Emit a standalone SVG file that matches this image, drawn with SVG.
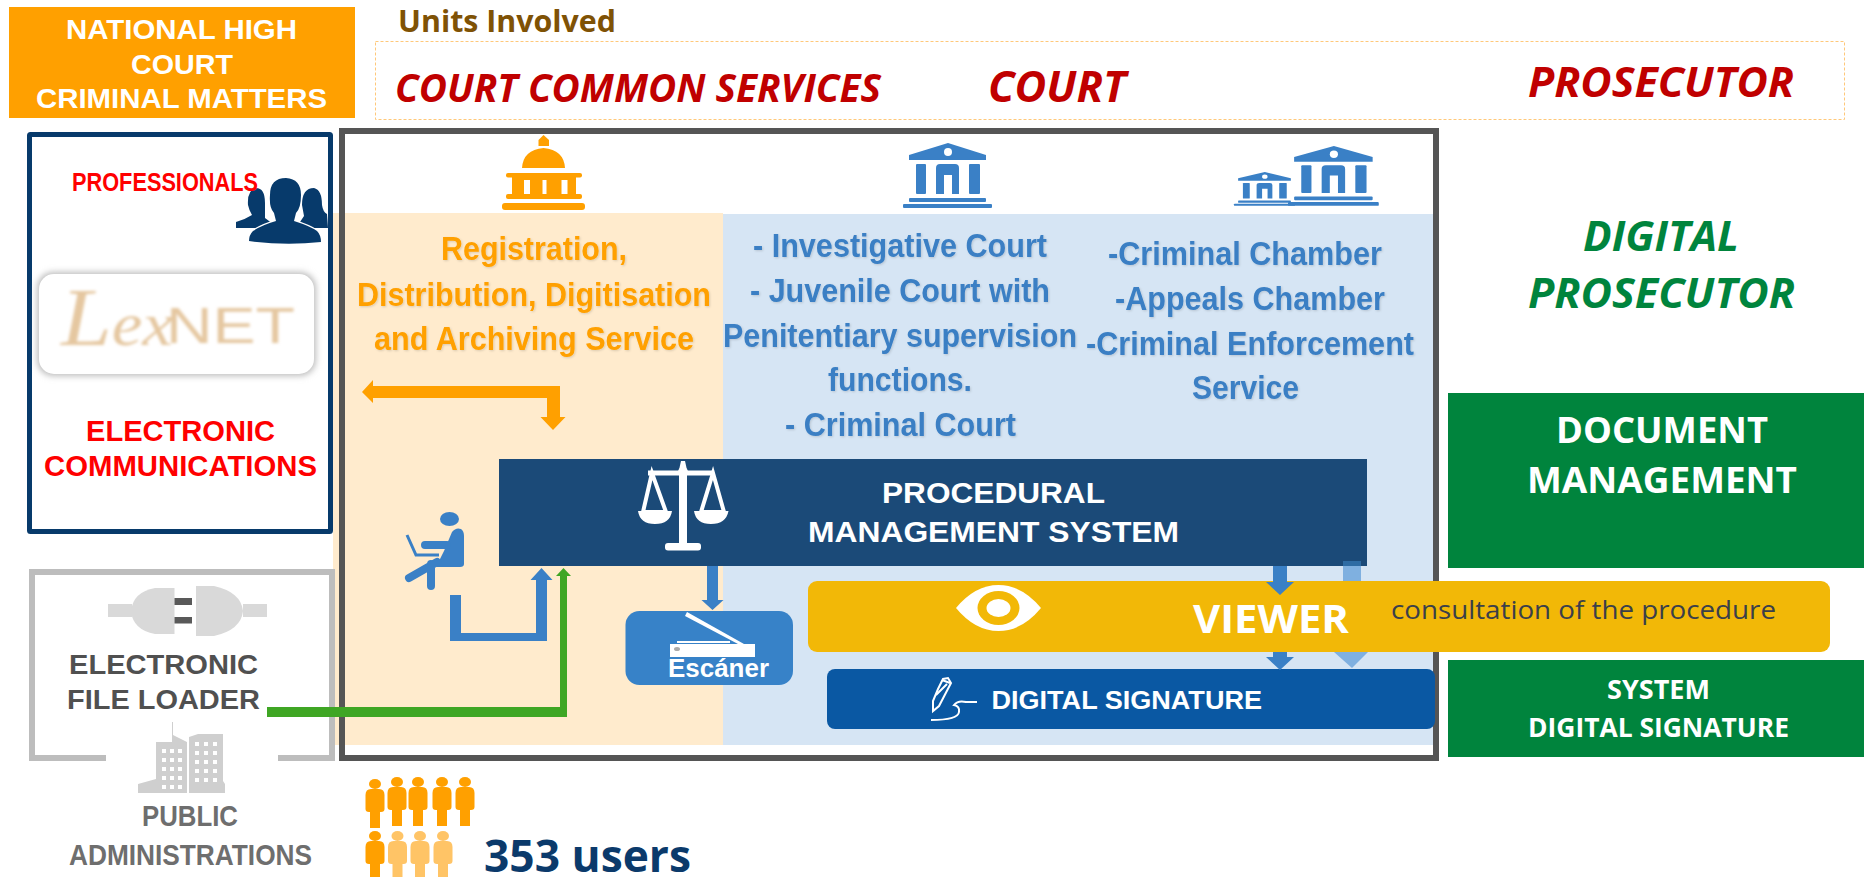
<svg xmlns="http://www.w3.org/2000/svg" xmlns:xlink="http://www.w3.org/1999/xlink" width="1864" height="877" viewBox="0 0 1864 877">
<style>
text{white-space:pre}
.ls{font-family:"Liberation Sans",Arial,sans-serif;font-weight:700}
.os{font-family:"Open Sans","Noto Sans",sans-serif;font-weight:700}
.it{font-style:italic}
.w{fill:#fff}
.red{fill:#C00000}
.pr{fill:#FF0000}
.bl{fill:#3A7FC4;filter:url(#soft)}
.or{fill:#FFA000;filter:url(#soft)}
.gr{fill:#00843D}
.ic{fill:#3A80C6}
</style>
<defs>
<filter id="soft" x="-5%" y="-20%" width="110%" height="140%"><feDropShadow dx="1" dy="1" stdDeviation="0.8" flood-color="#000" flood-opacity="0.14"/></filter>
<filter id="blur" x="-10%" y="-20%" width="120%" height="140%"><feGaussianBlur stdDeviation="1.6"/></filter>
<filter id="blur2" x="-10%" y="-20%" width="120%" height="140%"><feGaussianBlur stdDeviation="3"/></filter>
<g id="court">
<path d="M45 0L83 12V17H6V12Z"/>
<circle cx="45" cy="9" r="4" fill="#fff"/>
<rect x="13" y="21" width="10" height="30" rx="1"/>
<rect x="66" y="21" width="11" height="30" rx="1"/>
<path d="M33 51V25Q33 21 37 21H52Q56 21 56 25V51H49V32H41V51Z"/>
<rect x="6" y="55" width="77" height="4" rx="1"/>
<rect x="0" y="61" width="89" height="4" rx="1"/>
</g>
<g id="fig">
<ellipse cx="0" cy="5" rx="6" ry="5"/>
<path d="M-9.500 16Q-9.500 10 -4 10H4Q9.500 10 9.500 16V30Q9.500 33 6 33H5V49H-5V33H-6Q-9.500 33 -9.500 30Z"/>
</g>
</defs>

<g id="high-court">
<rect x="9" y="7" width="346" height="111" fill="#FFA000"/>
<text class="ls w" x="66" y="39" font-size="28" textLength="231" lengthAdjust="spacingAndGlyphs">NATIONAL HIGH</text>
<text class="ls w" x="131" y="74" font-size="28" textLength="102" lengthAdjust="spacingAndGlyphs">COURT</text>
<text class="ls w" x="36" y="108" font-size="28" textLength="291" lengthAdjust="spacingAndGlyphs">CRIMINAL MATTERS</text>
</g>

<g id="units">
<text class="os" x="398" y="32" font-size="31" fill="#7F5205" textLength="218" lengthAdjust="spacingAndGlyphs">Units Involved</text>
<rect x="375.500" y="41.500" width="1469" height="78" fill="#fff" stroke="#FFC87A" stroke-width="1" stroke-dasharray="3 2"/>
<text class="os it red" x="395" y="102" font-size="40" textLength="486" lengthAdjust="spacingAndGlyphs">COURT COMMON SERVICES</text>
<text class="os it red" x="988" y="102" font-size="43" textLength="138" lengthAdjust="spacingAndGlyphs">COURT</text>
<text class="os it red" x="1528" y="97" font-size="42" textLength="266" lengthAdjust="spacingAndGlyphs">PROSECUTOR</text>
</g>

<g id="panels">
<rect x="333" y="213" width="390" height="532" fill="#FFEBCD"/>
<rect x="723" y="214" width="710" height="531" fill="#D6E5F4"/>
<rect x="342" y="131" width="1094" height="627" fill="none" stroke="#555" stroke-width="6"/>
</g>

<g id="professionals">
<rect x="29.500" y="134.500" width="301" height="397" fill="#fff" stroke="#073A6B" stroke-width="5" rx="1"/>
<g id="people-icon" fill="#073A6B">
<path d="M248 205Q247 190 256 188Q265 188 265 203V218L273 224L262 228H236V222Q244 220 252 215Q249 210 248 205Z"/>
<path d="M302 205Q302 188 314 188Q322 190 322 205Q323 212 327 214L328 228H296L304 216Z"/>
<path d="M270 195Q270 178 286 178Q301 179 301 195Q301 208 296 213L294 221Q310 226 317 231Q321 235 321 242Q285 246 249 241Q249 235 253 231Q262 225 276 221L274 213Q269 208 270 195Z" stroke="#fff" stroke-width="2.500" paint-order="stroke"/>
</g>
<text class="ls pr" x="72" y="191" font-size="26" textLength="186" lengthAdjust="spacingAndGlyphs">PROFESSIONALS</text>
<rect x="37" y="272" width="279" height="104" rx="16" fill="#bdbdbd" filter="url(#blur2)"/>
<rect x="39" y="274" width="275" height="100" rx="15" fill="#fff"/>
<g filter="url(#blur)" fill="#E5C7A0">
<text x="61" y="345" font-family="Liberation Serif,serif" font-style="italic" font-size="62" textLength="112" lengthAdjust="spacingAndGlyphs"><tspan font-size="82">L</tspan>ex</text>
<text class="ls" x="166" y="343" font-size="50" style="font-weight:400" textLength="129" lengthAdjust="spacingAndGlyphs">NET</text>
</g>
<text class="ls pr" x="86" y="441" font-size="29" textLength="189" lengthAdjust="spacingAndGlyphs">ELECTRONIC</text>
<text class="ls pr" x="44" y="476" font-size="29" textLength="273" lengthAdjust="spacingAndGlyphs">COMMUNICATIONS</text>
</g>

<g id="loader">
<path d="M106 758H32V572H332V758H278" fill="none" stroke="#BDBDBD" stroke-width="6"/>
<g id="plug-icon">
<rect x="108" y="604" width="24" height="13" fill="#D9D9D9"/>
<path d="M174.500 588H155Q133 592 131 611Q133 630 155 634H174.500Z" fill="#D9D9D9"/>
<rect x="174.500" y="598" width="17.500" height="7" fill="#595959"/>
<rect x="174.500" y="617" width="17.500" height="6.500" fill="#595959"/>
<path d="M196 586H214Q241 592 243 611Q241 630 214 636H196Z" fill="#D9D9D9"/>
<rect x="243" y="604" width="24" height="13" fill="#D9D9D9"/>
</g>
<text class="ls" fill="#505050" x="69" y="674" font-size="27" textLength="189" lengthAdjust="spacingAndGlyphs">ELECTRONIC</text>
<text class="ls" fill="#505050" x="67" y="709" font-size="27" textLength="193" lengthAdjust="spacingAndGlyphs">FILE LOADER</text>
<g id="building-icon" fill="#CFCFCF">
<path d="M172 742V722H173V735L187 742V793H138V784L156 779V742Z"/>
<path d="M189 737L198 734H223V781L225 784V793H189Z"/>
<g fill="#fff">
<rect x="162" y="749" width="4" height="4"/><rect x="170" y="749" width="4" height="4"/><rect x="178" y="749" width="4" height="4"/>
<rect x="162" y="758" width="4" height="4"/><rect x="170" y="758" width="4" height="4"/><rect x="178" y="758" width="4" height="4"/>
<rect x="162" y="767" width="4" height="4"/><rect x="170" y="767" width="4" height="4"/><rect x="178" y="767" width="4" height="4"/>
<rect x="162" y="776" width="4" height="4"/><rect x="170" y="776" width="4" height="4"/><rect x="178" y="776" width="4" height="4"/>
<rect x="162" y="785" width="4" height="4"/><rect x="170" y="785" width="4" height="4"/><rect x="178" y="785" width="4" height="4"/>
<rect x="195" y="742" width="4" height="4"/><rect x="204" y="742" width="4" height="4"/><rect x="213" y="742" width="4" height="4"/>
<rect x="195" y="751" width="4" height="4"/><rect x="204" y="751" width="4" height="4"/><rect x="213" y="751" width="4" height="4"/>
<rect x="195" y="760" width="4" height="4"/><rect x="204" y="760" width="4" height="4"/><rect x="213" y="760" width="4" height="4"/>
<rect x="195" y="769" width="4" height="4"/><rect x="204" y="769" width="4" height="4"/><rect x="213" y="769" width="4" height="4"/>
<rect x="195" y="778" width="4" height="4"/><rect x="204" y="778" width="4" height="4"/><rect x="213" y="778" width="4" height="4"/>
</g>
</g>
<text class="ls" fill="#6E6E6E" x="142" y="826" font-size="30" textLength="96" lengthAdjust="spacingAndGlyphs">PUBLIC</text>
<text class="ls" fill="#6E6E6E" x="69" y="865" font-size="30" textLength="243" lengthAdjust="spacingAndGlyphs">ADMINISTRATIONS</text>
</g>

<g id="users">
<g fill="#FFA000">
<use xlink:href="#fig" href="#fig" transform="translate(375,779)"/>
<use xlink:href="#fig" href="#fig" transform="translate(397,777)"/>
<use xlink:href="#fig" href="#fig" transform="translate(418,777)"/>
<use xlink:href="#fig" href="#fig" transform="translate(442,777)"/>
<use xlink:href="#fig" href="#fig" transform="translate(465,777)"/>
<use xlink:href="#fig" href="#fig" transform="translate(375,831)"/>
</g>
<g fill="#FFC466">
<use xlink:href="#fig" href="#fig" transform="translate(397.500,831)"/>
<use xlink:href="#fig" href="#fig" transform="translate(420,831)"/>
<use xlink:href="#fig" href="#fig" transform="translate(443,831)"/>
</g>
<text class="os" x="484" y="872" font-size="45" fill="#0B3A6B" textLength="207" lengthAdjust="spacingAndGlyphs">353 users</text>
</g>

<g id="common-services">
<g id="capitol-icon" fill="#FFA000">
<path d="M538.500 146V140L543.500 135L549 140V146Z"/>
<path d="M522 168Q523 150 543.500 148Q564 150 565 168Z"/>
<rect x="506" y="173" width="76" height="4.500" rx="2"/>
<path d="M512 177H576V194H512ZM524 180V194H530V180ZM542.500 180V194H546.500V180ZM561.500 180V194H567.500V180Z" fill-rule="evenodd"/>
<rect x="506" y="194" width="76" height="5" rx="2"/>
<rect x="502" y="203" width="83" height="7" rx="3"/>
</g>
<text class="ls or" x="441" y="260" font-size="34" textLength="186" lengthAdjust="spacingAndGlyphs">Registration,</text>
<text class="ls or" x="357" y="306" font-size="34" textLength="354" lengthAdjust="spacingAndGlyphs">Distribution, Digitisation</text>
<text class="ls or" x="374" y="350" font-size="34" textLength="320" lengthAdjust="spacingAndGlyphs">and Archiving Service</text>
</g>

<g id="court-col">
<use xlink:href="#court" href="#court" class="ic" transform="translate(903,143)"/>
<text class="ls bl" x="753" y="257" font-size="34" textLength="294" lengthAdjust="spacingAndGlyphs">- Investigative Court</text>
<text class="ls bl" x="750" y="302" font-size="34" textLength="300" lengthAdjust="spacingAndGlyphs">- Juvenile Court with</text>
<text class="ls bl" x="723" y="347" font-size="34" textLength="354" lengthAdjust="spacingAndGlyphs">Penitentiary supervision</text>
<text class="ls bl" x="828" y="391" font-size="34" textLength="144" lengthAdjust="spacingAndGlyphs">functions.</text>
<text class="ls bl" x="785" y="436" font-size="34" textLength="231" lengthAdjust="spacingAndGlyphs">- Criminal Court</text>
</g>

<g id="chamber-col">
<use xlink:href="#court" href="#court" class="ic" transform="translate(1234,172) scale(0.685,0.52)"/>
<use xlink:href="#court" href="#court" class="ic" transform="translate(1288,146) scale(1.02,0.92)"/>
<text class="ls bl" x="1108" y="265" font-size="34" textLength="274" lengthAdjust="spacingAndGlyphs">-Criminal Chamber</text>
<text class="ls bl" x="1115" y="310" font-size="34" textLength="270" lengthAdjust="spacingAndGlyphs">-Appeals Chamber</text>
<text class="ls bl" x="1086" y="355" font-size="34" textLength="328" lengthAdjust="spacingAndGlyphs">-Criminal Enforcement</text>
<text class="ls bl" x="1192" y="399" font-size="34" textLength="107" lengthAdjust="spacingAndGlyphs">Service</text>
</g>

<g id="procedural">
<rect x="499" y="459" width="868" height="107" fill="#1B4A78"/>
<g id="scale-icon">
<path d="M681 461H685L687 470V543H679V470Z" fill="#fff"/>
<rect x="648" y="470.500" width="66" height="5" fill="#fff"/>
<circle cx="683" cy="472" r="5" fill="#fff"/>
<rect x="665" y="543" width="36" height="7.500" rx="3" fill="#fff"/>
<path d="M652 473L643 512H666ZM713 473L701 512H724Z" fill="none" stroke="#fff" stroke-width="4"/>
<path d="M638 511H672Q670 524 655 524Q640 524 638 511ZM694 511H728.500Q726 524 711 524Q696 524 694 511Z" fill="#fff"/>
</g>
<text class="ls w" x="882" y="503" font-size="29" textLength="223" lengthAdjust="spacingAndGlyphs">PROCEDURAL</text>
<text class="ls w" x="808" y="542" font-size="29" textLength="371" lengthAdjust="spacingAndGlyphs">MANAGEMENT SYSTEM</text>
</g>

<g id="user-icon">
<ellipse cx="449.500" cy="519" rx="9.500" ry="7" class="ic"/>
<path d="M444 551L452 532Q456 527 461 529Q464 531 464 536V564Q464 567 460 567H436Z" class="ic"/>
<path d="M425 545H447M437 562L409 578M431 564V586" fill="none" stroke="#3A80C6" stroke-width="8" stroke-linecap="round"/>
<path d="M407 535L416 555H439" fill="none" stroke="#3A80C6" stroke-width="3"/>
</g>

<g id="scanner">
<rect x="625.500" y="611" width="167.500" height="74" rx="14" fill="#3782C8"/>
<path d="M687 612L744 644H738L685 616Z" fill="#fff"/>
<rect x="677" y="641" width="53" height="2" fill="#fff"/>
<rect x="670" y="644" width="85" height="13" fill="#fff"/>
<ellipse cx="677" cy="649" rx="3" ry="2" fill="#aaa"/>
<text class="ls w" x="668" y="677" font-size="25" textLength="101" lengthAdjust="spacingAndGlyphs">Escáner</text>
</g>

<g id="digital-signature">
<rect x="827" y="669" width="608" height="60" rx="8" fill="#0A58A3"/>
<g id="pen-icon" fill="none" stroke="#fff">
<path d="M938 689L943 679L948 678L951 683L939 706L933 711L933 701Z" stroke-width="2"/>
<path d="M936 695L947 684M942 680L950 683" stroke-width="2"/>
<path d="M931 720Q958 720 959 712Q960 706 954 705Q958 700 966 702H977" stroke-width="2"/>
</g>
<text class="ls w" x="991.500" y="709" font-size="25" textLength="270.500" lengthAdjust="spacingAndGlyphs">DIGITAL SIGNATURE</text>
</g>

<g id="viewer">
<rect x="808" y="581" width="1022" height="71" rx="9" fill="#F2B807"/>
<g id="eye-icon">
<path d="M956 608Q975 585 998.500 585Q1022 585 1041 608Q1022 631 998.500 631Q975 631 956 608Z" fill="#fff"/>
<ellipse cx="998.500" cy="608" rx="21" ry="17" fill="#F2B807"/>
<ellipse cx="998.500" cy="608" rx="12" ry="9" fill="#fff"/>
</g>
<text class="os w" x="1193" y="633" font-size="40" textLength="156" lengthAdjust="spacingAndGlyphs">VIEWER</text>
<text x="1391" y="619" font-family="Open Sans,Noto Sans,sans-serif" font-size="26" fill="#3B3F4A" textLength="385" lengthAdjust="spacingAndGlyphs">consultation of the procedure</text>
</g>

<g id="prosecutor-col">
<text class="os it gr" x="1583" y="251" font-size="41" textLength="156" lengthAdjust="spacingAndGlyphs">DIGITAL</text>
<text class="os it gr" x="1528" y="308" font-size="41" textLength="267" lengthAdjust="spacingAndGlyphs">PROSECUTOR</text>
</g>

<g id="document-management">
<rect x="1448" y="393" width="416" height="175" fill="#00843D"/>
<text class="os w" x="1556" y="443" font-size="36" textLength="212" lengthAdjust="spacingAndGlyphs">DOCUMENT</text>
<text class="os w" x="1527" y="493" font-size="36" textLength="270" lengthAdjust="spacingAndGlyphs">MANAGEMENT</text>
</g>

<g id="system-signature">
<rect x="1448" y="660" width="416" height="97" fill="#00843D"/>
<text class="os w" x="1607" y="699" font-size="26" textLength="103" lengthAdjust="spacingAndGlyphs">SYSTEM</text>
<text class="os w" x="1528" y="737" font-size="26" textLength="261" lengthAdjust="spacingAndGlyphs">DIGITAL SIGNATURE</text>
</g>

<g id="connectors">
<path d="M362 392L373 380V386H560V417H565.500L553 430L540.500 417H547V398H373V403Z" fill="#FFA000"/>
<path d="M450 595H461V633H536V580H530.500L541.500 568L552.500 580H547V641H450Z" fill="#3A80C6"/>
<path d="M267 707H560V576H556L563.500 568L571 576H567V717H267Z" fill="#3FA624"/>
<path d="M707 566H718V600H723.500L712.500 610L701.500 600H707Z" fill="#3A80C6"/>
<path d="M1343 561H1361V566H1343Z" fill="#2E6CA4"/>
<path d="M1343 566H1361V581H1343Z" fill="#7FB0E0"/>
<path d="M1334 652H1368L1352 668Z" fill="#7FB0E0"/>
<path d="M1273 566H1287V582H1294L1280 595L1266 582H1273Z" fill="#3A80C6"/>
<path d="M1273 652H1287V657H1294L1280 670L1266 657H1273Z" fill="#3A80C6"/>
</g>
</svg>
